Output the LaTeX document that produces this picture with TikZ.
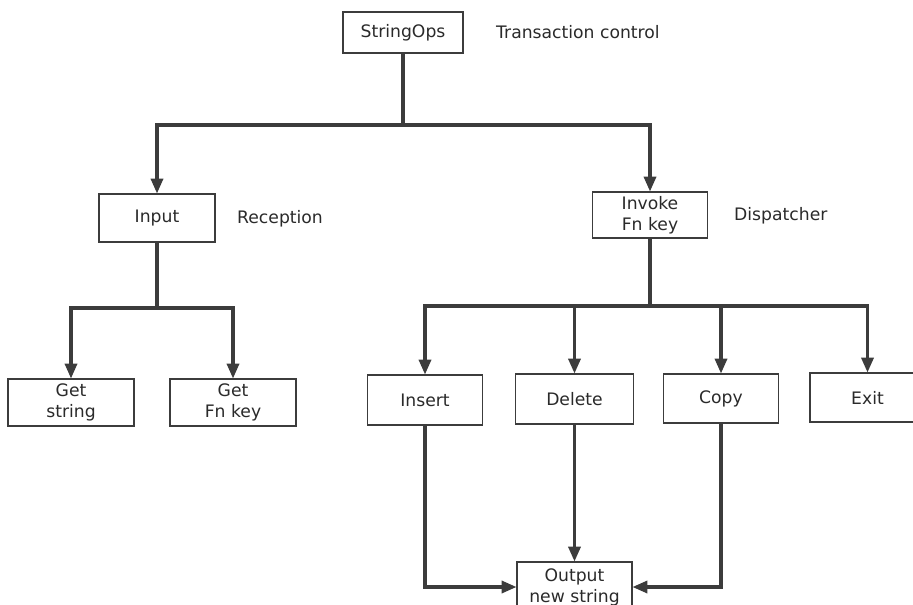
\documentclass[tikz,border=0pt]{standalone}
\usepackage{fontspec}
\setmainfont{DejaVu Sans}
\usetikzlibrary{arrows.meta}

\definecolor{ink}{HTML}{3C3C3C}
\definecolor{txt}{HTML}{2A2A2A}

\tikzset{
  box/.style={draw=ink, line width=1.8pt, fill=white, text=txt,
    inner sep=0pt, align=center,
    font=\fontsize{17.2}{21}\selectfont},
  note/.style={text=txt, anchor=west, inner sep=0pt,
    font=\fontsize{17.2}{21}\selectfont},
  link/.style={draw=ink, line width=3.4pt},
  arrow/.style={link, -{Triangle[length=15pt,width=12pt]}, shorten >=-0.5pt}
}

\begin{document}
\begin{tikzpicture}[x=1pt,y=-1pt]
  \useasboundingbox (0,0) rectangle (913,605);

  % top level
  \node[box, minimum width=120pt, minimum height=41pt] (ops) at (403,32.5) {StringOps};
  \node[note] (opsnote) at (496,32) {Transaction control};

  % second level
  \node[box, minimum width=116pt, minimum height=48pt] (input) at (157,218) {Input};
  \node[note] (innote) at (237,219) {Reception};
  \node[box, minimum width=115pt, minimum height=46pt] (invoke) at (650,215) {Invoke\\Fn key};
  \node[note] (invnote) at (734,216) {Dispatcher};

  % reception children
  \node[box, minimum width=126pt, minimum height=47pt] (getstr) at (71,402.5) {Get\\string};
  \node[box, minimum width=126pt, minimum height=47pt] (getfn) at (233,402.5) {Get\\Fn key};

  % dispatcher children
  \node[box, minimum width=115pt, minimum height=50pt] (insert) at (425,400) {Insert};
  \node[box, minimum width=118pt, minimum height=50pt] (delete) at (574.5,399) {Delete};
  \node[box, minimum width=115pt, minimum height=49pt] (copy) at (721,398.5) {Copy};
  \node[box, minimum width=115pt, minimum height=49pt] (exit) at (867.5,397.5) {Exit};

  % output
  \node[box, minimum width=115pt, minimum height=50pt] (out) at (574.5,587) {Output\\new string};

  % junction points of the branch lines
  \coordinate (j0) at (403,125);
  \coordinate (j1) at (157,308);
  \coordinate (j2) at (650,306);

  \draw[link] (ops.south) -- (j0);
  \draw[arrow] (j0) -| (input.north);
  \draw[arrow] (j0) -| (invoke.north);

  \draw[link] (input.south) -- (j1);
  \draw[arrow] (j1) -| (getstr.north);
  \draw[arrow] (j1) -| (getfn.north);

  \draw[link] (invoke.south) -- (j2);
  \draw[arrow] (j2) -| (insert.north);
  \draw[arrow] (j2) -| (delete.north);
  \draw[arrow] (j2) -| (copy.north);
  \draw[arrow] (j2) -| (exit.north);

  \draw[arrow] (delete.south) -- (out.north);
  \draw[arrow] (insert.south) |- (out.west);
  \draw[arrow] (copy.south) |- (out.east);
\end{tikzpicture}
\end{document}
